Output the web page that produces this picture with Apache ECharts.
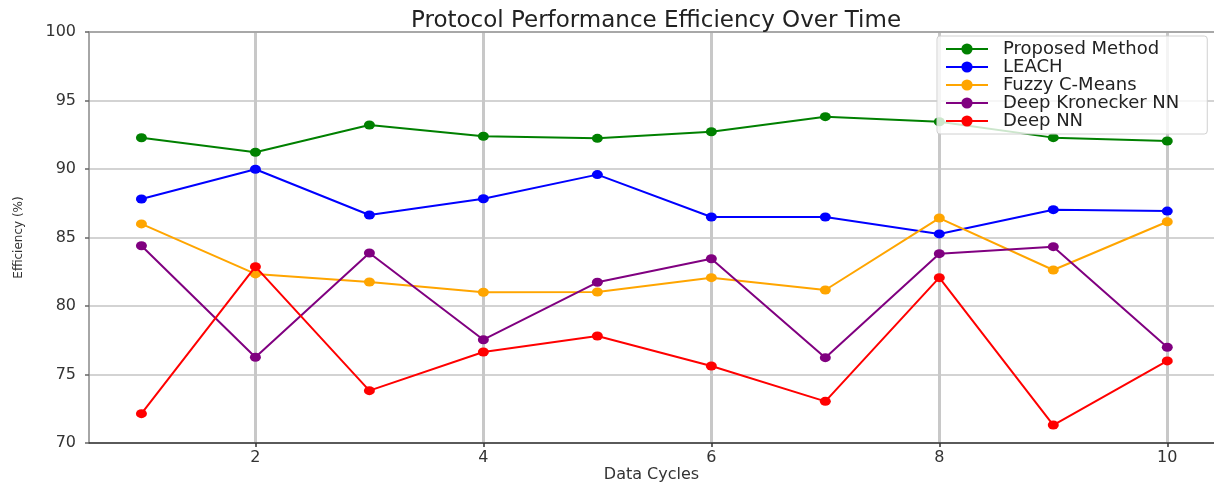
<!DOCTYPE html>
<html>
<head>
<meta charset="utf-8">
<script src="https://cdn.jsdelivr.net/npm/echarts@6/dist/echarts.min.js"></script>
<style>html,body{margin:0;padding:0;background:#fff}#c{width:1214px;height:485px}</style>
</head>
<body>
<div id="c"></div>
<script>
const cycles = [1, 2, 3, 4, 5, 6, 7, 8, 9, 10];
const proposed = [92.28, 91.22, 93.21, 92.39, 92.24, 92.72, 93.82, 93.45, 92.29, 92.04];
const leach = [87.81, 89.98, 86.64, 87.83, 89.59, 86.50, 86.50, 85.26, 87.03, 86.93];
const fuzzy = [85.99, 82.34, 81.75, 81.00, 81.02, 82.07, 81.17, 86.42, 82.63, 86.15];
const kronecker = [84.40, 76.26, 83.87, 77.54, 81.73, 83.45, 76.23, 83.82, 84.33, 76.99];
const deepNN = [72.14, 82.87, 73.82, 76.64, 77.81, 75.62, 73.04, 82.07, 71.31, 75.99];
const xTicks = [2, 4, 6, 8, 10];
const seriesNames = ['Proposed Method', 'LEACH', 'Fuzzy C-Means', 'Deep Kronecker NN', 'Deep NN'];
const seriesValues = [proposed, leach, fuzzy, kronecker, deepNN];
const colors = ['#008000', '#0000ff', '#ffa500', '#800080', '#ff0000'];

const font = 'DejaVu Sans';
const chart = echarts.init(document.getElementById('c'), null, {renderer: 'canvas'});
chart.setOption({
  animation: false,
  backgroundColor: '#fff',
  title: {
    text: 'Protocol Performance Efficiency Over Time',
    left: 651, top: 5, textAlign: 'center',
    textStyle: {fontFamily: font, fontSize: 23, fontWeight: 'normal', color: '#222'}
  },
  grid: {left: 89, right: 0, top: 32, bottom: 42, outerBoundsMode: 'none'},
  legend: {
    orient: 'vertical', left: 937, top: 36,
    itemWidth: 42, itemHeight: 14, itemGap: 0,
    padding: [4, 28, 4, 8],
    backgroundColor: 'rgba(255,255,255,0.8)', borderColor: '#d0d0d0', borderWidth: 1, borderRadius: 3,
    textStyle: {fontFamily: font, fontSize: 18, lineHeight: 18, color: '#222', padding: [0, 0, 0, 10]},
    data: seriesNames
  },
  xAxis: [{
    type: 'value', min: 0.54, max: 10.41,
    name: 'Data Cycles', nameLocation: 'middle', nameGap: 24, nameMoveOverlap: false,
    nameTextStyle: {fontFamily: font, fontSize: 16, color: '#333'},
    axisLine: {show: true, onZero: false, lineStyle: {color: '#333', width: 1.5}},
    axisTick: {show: true, length: 4, customValues: xTicks, lineStyle: {color: '#333', width: 1.5}},
    axisLabel: {customValues: xTicks, fontFamily: font, fontSize: 16, color: '#333', margin: 7},
    splitLine: {show: true, lineStyle: {color: '#c8c8c8', width: 3}}
  }, {
    type: 'value', position: 'top', min: 0.54, max: 10.41,
    axisLine: {show: true, onZero: false, lineStyle: {color: '#9a9a9a', width: 1.5}},
    axisTick: {show: false}, axisLabel: {show: false}, splitLine: {show: false}
  }],
  yAxis: {
    type: 'value', min: 70, max: 100, interval: 5,
    name: 'Efficiency (%)', nameLocation: 'middle', nameGap: 64, nameRotate: 90,
    nameTextStyle: {fontFamily: font, fontSize: 12, color: '#333'},
    axisLine: {show: true, lineStyle: {color: '#888', width: 1.5}},
    axisTick: {show: true, length: 4, lineStyle: {color: '#666', width: 1.5}},
    axisLabel: {fontFamily: font, fontSize: 16, color: '#333', margin: 13},
    splitLine: {show: true, lineStyle: {color: '#c4c4c4', width: 1.5}}
  },
  series: seriesNames.map((n, i) => ({
    name: n, type: 'line', xAxisIndex: 0,
    data: cycles.map((c, j) => [c, seriesValues[i][j]]),
    symbol: 'circle', symbolSize: [11, 9],
    lineStyle: {color: colors[i], width: 2},
    itemStyle: {color: colors[i]},
    z: 2 + i
  }))
});
</script>
</body>
</html>
